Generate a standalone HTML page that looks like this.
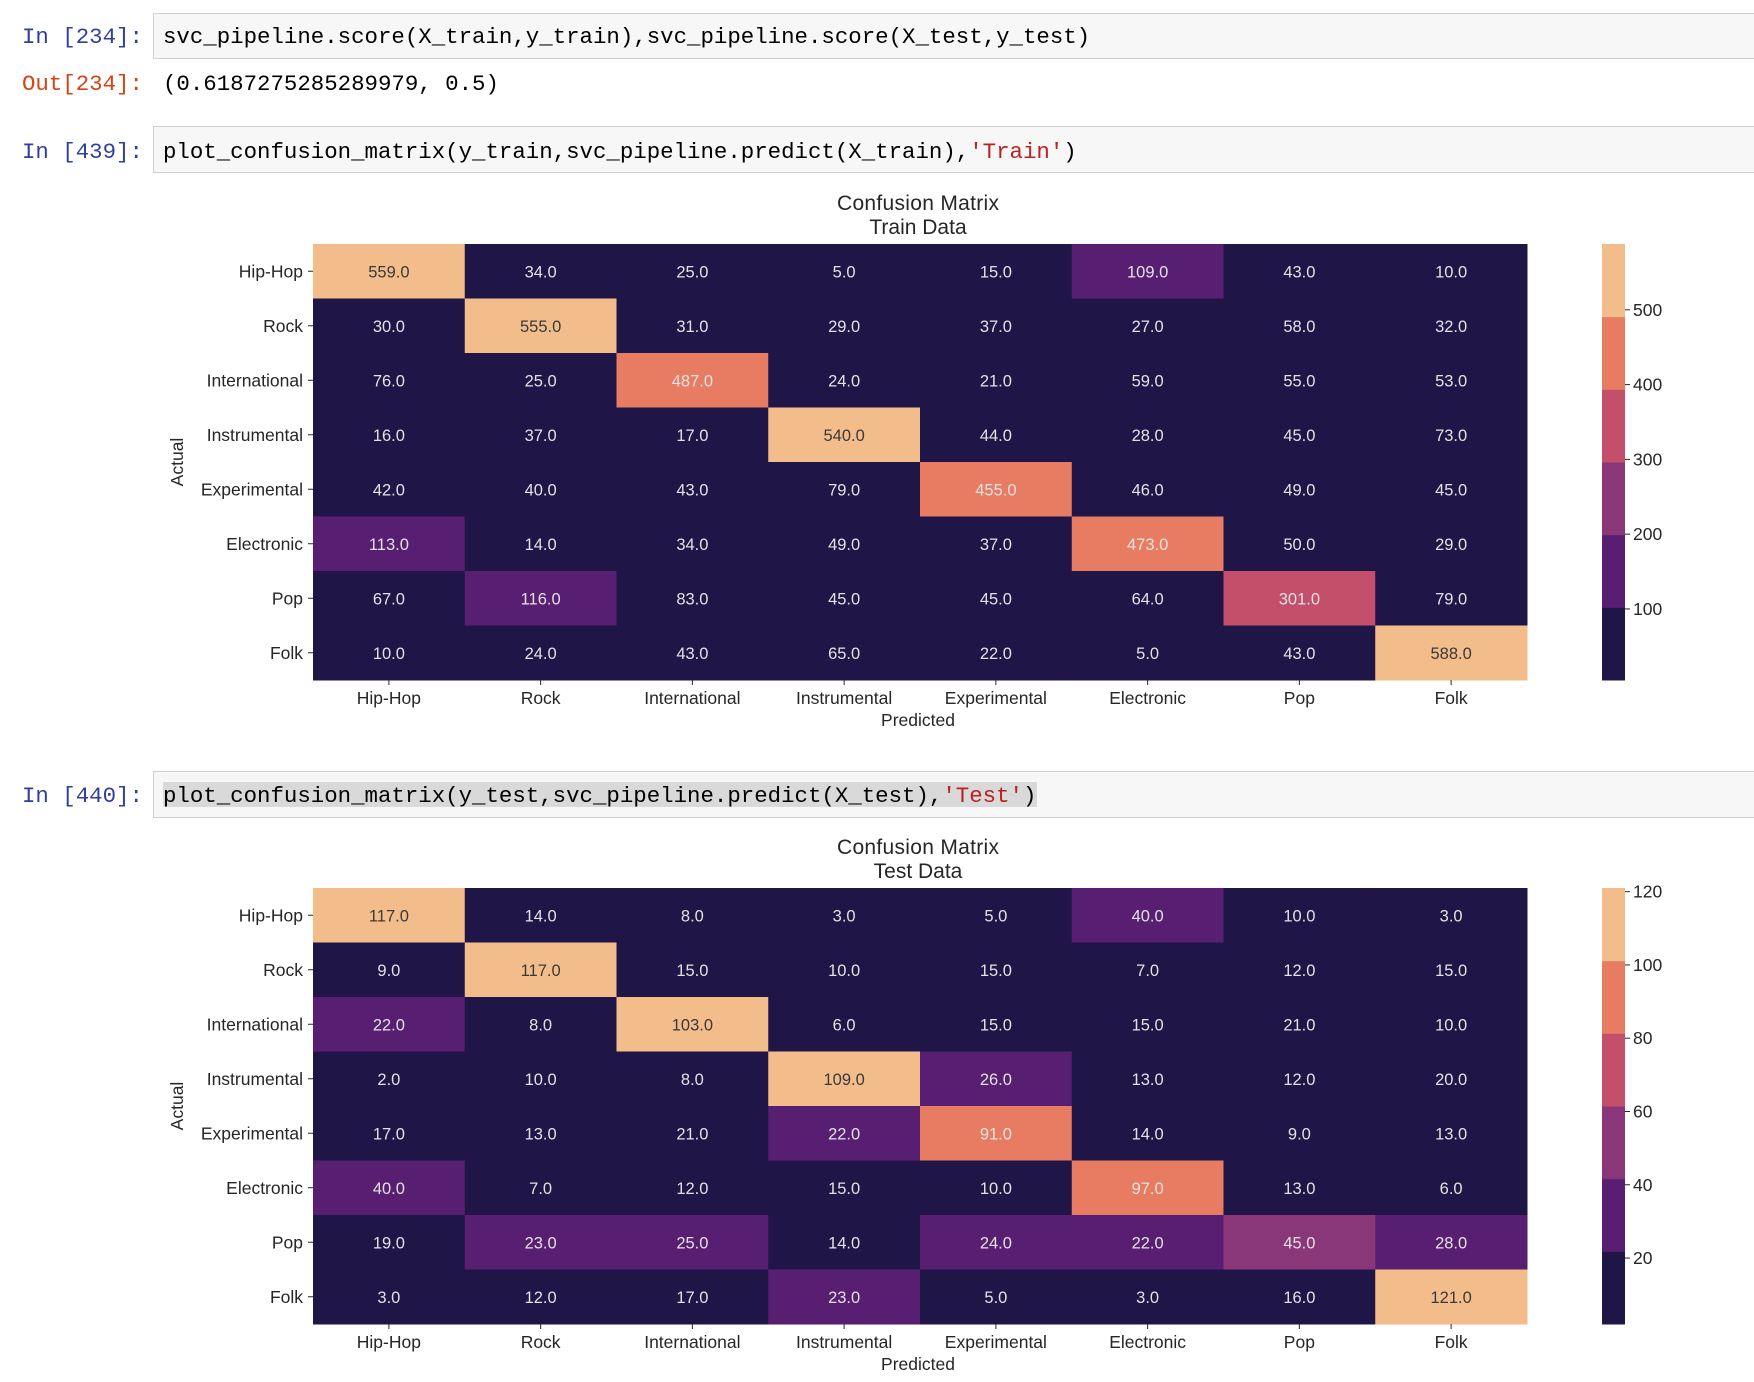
<!DOCTYPE html>
<html><head><meta charset="utf-8"><style>
body{margin:0;background:#fff;width:1754px;height:1382px;overflow:hidden}
svg{display:block}
.mono{font-family:"Liberation Mono",monospace;font-size:22.4px}
.sans{font-family:"Liberation Sans",sans-serif}
</style></head><body>
<svg id="nb" width="1754" height="1382" xmlns="http://www.w3.org/2000/svg">
 <g>
  <text x="22" y="43" class="mono" fill="#303f9f">In [234]:</text>
  <rect x="153.5" y="13.5" width="1610" height="45" fill="#f7f7f7" stroke="#cfcfcf"/>
  <text x="163" y="43" class="mono" fill="#000">svc_pipeline.score(X_train,y_train),svc_pipeline.score(X_test,y_test)</text>
  <text x="22" y="90" class="mono" fill="#d84315">Out[234]:</text>
  <text x="163" y="90" class="mono" fill="#000">(0.6187275285289979, 0.5)</text>
 </g>
 <g>
  <text x="22" y="158" class="mono" fill="#303f9f">In [439]:</text>
  <rect x="153.5" y="126.5" width="1610" height="46" fill="#f7f7f7" stroke="#cfcfcf"/>
  <text x="163" y="158" class="mono" fill="#000">plot_confusion_matrix(y_train,svc_pipeline.predict(X_train),<tspan fill="#ba2121">'Train'</tspan>)</text>
 </g>
 <g>
  <text x="22" y="802" class="mono" fill="#303f9f">In [440]:</text>
  <rect x="153.5" y="771.5" width="1610" height="46" fill="#f7f7f7" stroke="#cfcfcf"/>
  <rect x="163" y="782" width="874" height="25" fill="#d9d9d9"/>
  <text x="163" y="802" class="mono" fill="#000">plot_confusion_matrix(y_test,svc_pipeline.predict(X_test),<tspan fill="#ba2121">'Test'</tspan>)</text>
 </g>
 <g id="chart1"></g>
 <g id="chart2"></g>
</svg>
<script>
const categories = ["Hip-Hop","Rock","International","Instrumental","Experimental","Electronic","Pop","Folk"];
const trainValues = [
 [559,34,25,5,15,109,43,10],
 [30,555,31,29,37,27,58,32],
 [76,25,487,24,21,59,55,53],
 [16,37,17,540,44,28,45,73],
 [42,40,43,79,455,46,49,45],
 [113,14,34,49,37,473,50,29],
 [67,116,83,45,45,64,301,79],
 [10,24,43,65,22,5,43,588]
];
const testValues = [
 [117,14,8,3,5,40,10,3],
 [9,117,15,10,15,7,12,15],
 [22,8,103,6,15,15,21,10],
 [2,10,8,109,26,13,12,20],
 [17,13,21,22,91,14,9,13],
 [40,7,12,15,10,97,13,6],
 [19,23,25,14,24,22,45,28],
 [3,12,17,23,5,3,16,121]
];
const trainTicks = [100,200,300,400,500];
const testTicks = [20,40,60,80,100,120];
const palette = ["#201547","#571e72","#8a377a","#c44f6b","#e87c63","#f3bd8b"];
const NS="http://www.w3.org/2000/svg";
function mk(parent,tag,attrs){const e=document.createElementNS(NS,tag);for(const k in attrs)e.setAttribute(k,attrs[k]);parent.appendChild(e);return e;}
function draw(g,vals,ticks,top,title){
 const left=313,right=1527,bottom=top+436,n=categories.length;
 const cw=(right-left)/n,ch=(bottom-top)/n;
 const flat=vals.flat(),vmin=Math.min(...flat),vmax=Math.max(...flat);
 const xScale=i=>left+i*cw, yScale=i=>top+i*ch;
 const colorIdx=v=>Math.min(palette.length-1,Math.floor((v-vmin)/(vmax-vmin)*palette.length));
 let t=mk(g,"text",{x:918,y:top-34,"text-anchor":"middle","font-size":"21","textLength":"162",fill:"#262626",class:"sans"});t.textContent="Confusion Matrix";
 
 
 t=mk(g,"text",{x:918,y:top-10,"text-anchor":"middle","font-size":"21",fill:"#262626",class:"sans"});t.textContent=title;
 
 
 vals.forEach((row,r)=>row.forEach((v,c)=>{
  const ci=colorIdx(v);
  const rc=mk(g,"rect",{x:xScale(c),y:yScale(r),width:cw+0.5,height:ch+0.5,fill:palette[ci]});
  
  
  const tx=mk(g,"text",{x:xScale(c)+cw/2,y:yScale(r)+ch/2+6,"text-anchor":"middle","font-size":"16.5",fill:ci===5?"#3a3a3a":"#e2e2e2",class:"sans"});
  tx.textContent=v.toFixed(1);
  
  
 }));
 categories.forEach((cat,i)=>{
  const y=yScale(i)+ch/2;
  mk(g,"line",{x1:left-5,x2:left,y1:y,y2:y,stroke:"#262626"});
  const l=mk(g,"text",{x:left-10,y:y+6,"text-anchor":"end","font-size":"17.5",fill:"#262626",class:"sans"});l.textContent=cat;
  
  
  const x=xScale(i)+cw/2;
  mk(g,"line",{x1:x,x2:x,y1:bottom,y2:bottom+5,stroke:"#262626"});
  const xl=mk(g,"text",{x:x,y:bottom+24,"text-anchor":"middle","font-size":"17.5",fill:"#262626",class:"sans"});xl.textContent=cat;
  
  
 });
 t=mk(g,"text",{x:918,y:bottom+46,"text-anchor":"middle","font-size":"17.5",fill:"#262626",class:"sans"});t.textContent="Predicted";
 
 
 t=mk(g,"text",{x:0,y:0,"text-anchor":"middle","font-size":"17.5",fill:"#262626",class:"sans",transform:`translate(183,${(top+bottom)/2}) rotate(-90)`});t.textContent="Actual";
 
 
 const cbx=1602,cbw=23;
 const cy=v=>bottom-(v-vmin)/(vmax-vmin)*(bottom-top);
 palette.forEach((col,i)=>{
  const v0=vmin+(vmax-vmin)*i/palette.length,v1=vmin+(vmax-vmin)*(i+1)/palette.length;
  const b=mk(g,"rect",{x:cbx,y:cy(v1),width:cbw,height:cy(v0)-cy(v1)+0.5,fill:col});
  
  
 });
 ticks.forEach(v=>{
  const y=cy(v);
  mk(g,"line",{x1:cbx+cbw,x2:cbx+cbw+5,y1:y,y2:y,stroke:"#262626"});
  const l=mk(g,"text",{x:cbx+cbw+8,y:y+6,"font-size":"17.5",fill:"#262626",class:"sans"});l.textContent=v;
  
  
 });
}
draw(document.getElementById("chart1"),trainValues,trainTicks,244,"Train Data");
draw(document.getElementById("chart2"),testValues,testTicks,888,"Test Data");
</script>
</body></html>
